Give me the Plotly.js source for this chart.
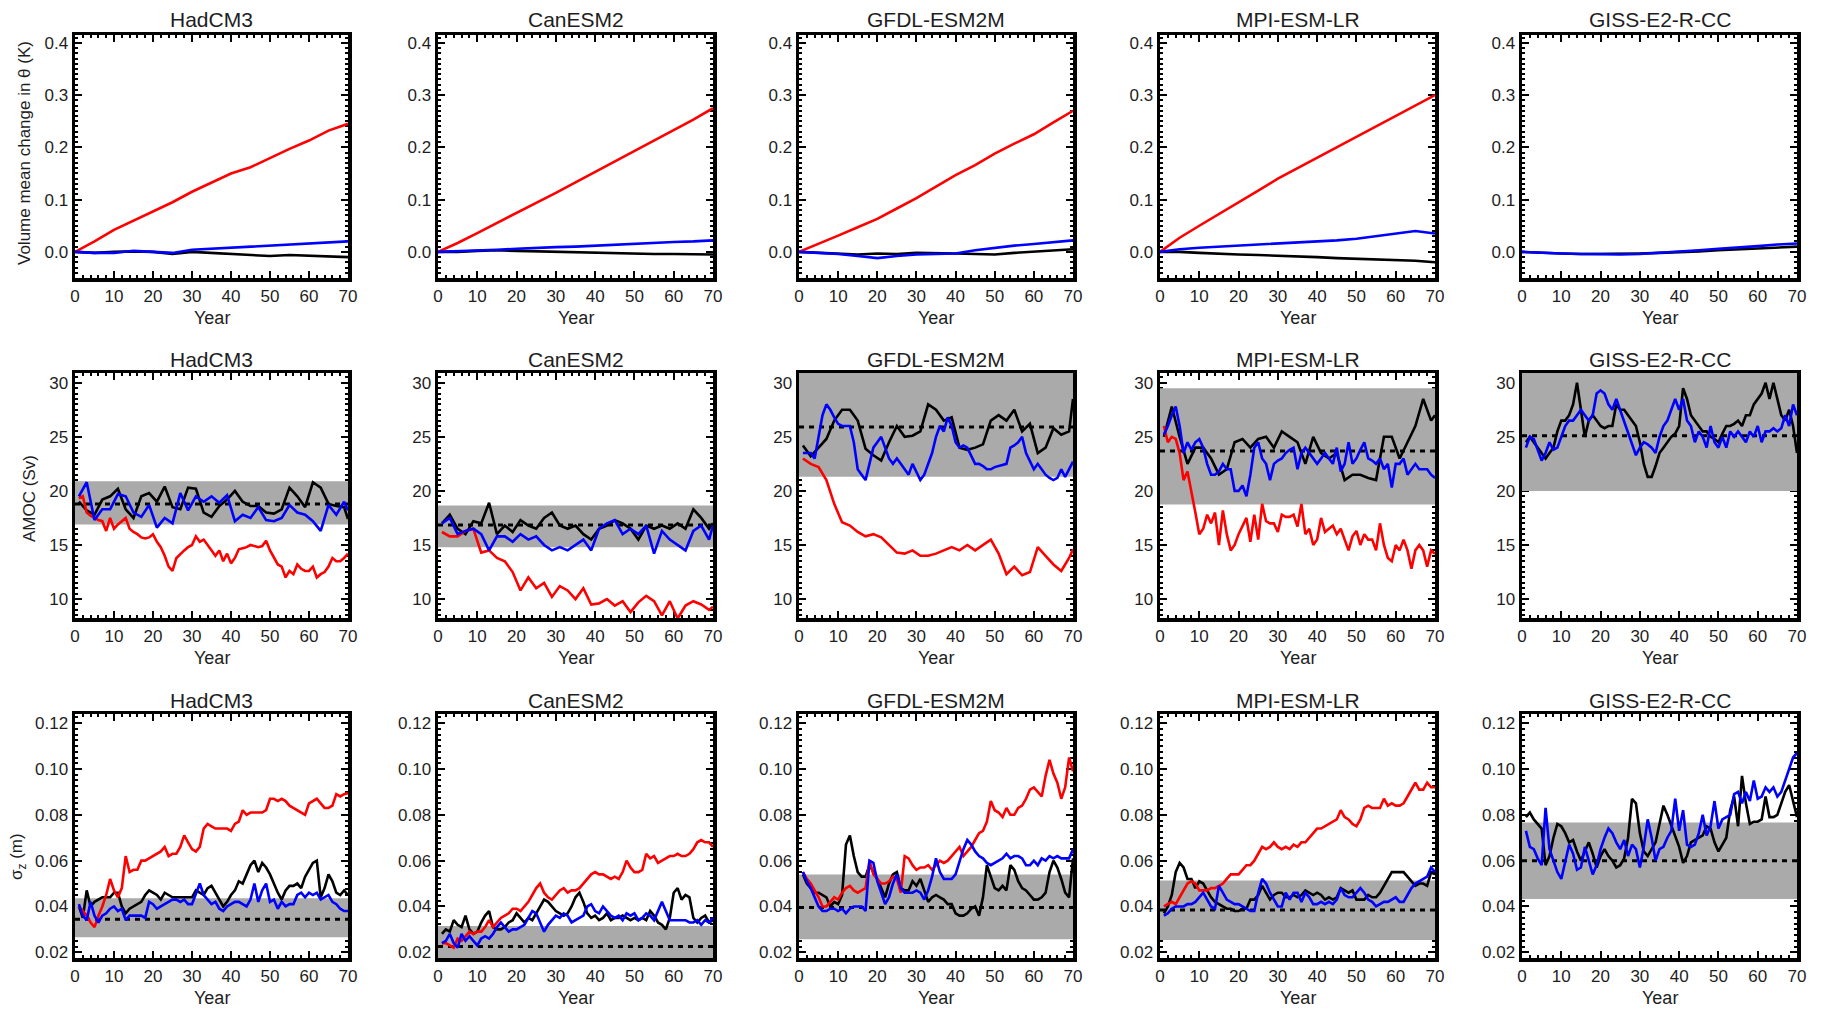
<!DOCTYPE html>
<html><head><meta charset="utf-8">
<script src="https://cdn.plot.ly/plotly-3.0.1.min.js"></script>
<style>html,body{margin:0;padding:0;background:#fff}#chart{width:1821px;height:1009px}</style>
</head><body><div id="chart"></div>
<script>
// ---------------- DATA ----------------
const MODELS = ['HadCM3', 'CanESM2', 'GFDL-ESM2M', 'MPI-ESM-LR', 'GISS-E2-R-CC'];
const X_TICKS = [0, 10, 20, 30, 40, 50, 60, 70];

// Row 1: volume mean change in theta (K), every 5 years
const YEARS_T = [0, 5, 10, 15, 20, 25, 30, 35, 40, 45, 50, 55, 60, 65, 70];
const thetaHadRed   = [0, 0.020, 0.042, 0.060, 0.077, 0.095, 0.115, 0.133, 0.150, 0.162, 0.180, 0.197, 0.213, 0.232, 0.245];
const thetaHadBlue  = [0, -0.002, -0.002, 0.002, 0.000, -0.002, 0.004, 0.006, 0.008, 0.010, 0.012, 0.013, 0.015, 0.017, 0.020];
const thetaHadBlack = [0, -0.002, 0.000, 0.001, 0.000, -0.004, 0.000, -0.002, -0.004, -0.005, -0.008, -0.006, -0.007, -0.008, -0.010];
const thetaCanRed   = [0, 0.017, 0.036, 0.055, 0.074, 0.093, 0.113, 0.133, 0.153, 0.172, 0.192, 0.212, 0.232, 0.253, 0.275];
const thetaCanBlue  = [0, 0.001, 0.003, 0.004, 0.006, 0.008, 0.009, 0.010, 0.012, 0.013, 0.015, 0.017, 0.019, 0.020, 0.022];
const thetaCanBlack = [0, 0.000, 0.002, 0.003, 0.002, 0.001, 0.000, -0.001, -0.002, -0.003, -0.003, -0.004, -0.004, -0.005, -0.005];
const thetaGfdlRed   = [0, 0.015, 0.031, 0.047, 0.063, 0.083, 0.103, 0.125, 0.147, 0.166, 0.188, 0.207, 0.225, 0.248, 0.270];
const thetaGfdlBlue  = [0, -0.002, -0.004, -0.008, -0.012, -0.008, -0.005, -0.004, -0.003, 0.003, 0.008, 0.012, 0.015, 0.019, 0.022];
const thetaGfdlBlack = [0, -0.002, -0.003, -0.005, -0.003, -0.004, -0.002, -0.002, -0.003, -0.004, -0.005, -0.002, 0.000, 0.002, 0.005];
const thetaMpiRed   = [0, 0.027, 0.050, 0.072, 0.095, 0.117, 0.140, 0.160, 0.180, 0.200, 0.220, 0.240, 0.260, 0.280, 0.300];
const thetaMpiBlue  = [0, 0.005, 0.008, 0.010, 0.012, 0.014, 0.015, 0.018, 0.020, 0.022, 0.025, 0.030, 0.035, 0.040, 0.035];
const thetaMpiBlack = [0, 0.000, -0.002, -0.004, -0.005, -0.006, -0.007, -0.008, -0.010, -0.012, -0.013, -0.014, -0.015, -0.017, -0.020];
const thetaGissBlue  = [0, -0.002, -0.003, -0.004, -0.005, -0.005, -0.004, -0.002, 0.000, 0.003, 0.006, 0.008, 0.011, 0.014, 0.016];
const thetaGissBlack = [0, -0.002, -0.003, -0.004, -0.004, -0.004, -0.003, -0.002, -0.001, 0.001, 0.003, 0.005, 0.007, 0.009, 0.010];

// Rows 2 and 3: yearly series (YEARS_1) and series read every 2 years (YEARS_2)
const YEARS_1 = [1, 2, 3, 4, 5, 6, 7, 8, 9, 10, 11, 12, 13, 14, 15, 16, 17, 18, 19, 20, 21, 22, 23, 24, 25, 26, 27, 28, 29, 30, 31, 32, 33, 34, 35, 36, 37, 38, 39, 40, 41, 42, 43, 44, 45, 46, 47, 48, 49, 50, 51, 52, 53, 54, 55, 56, 57, 58, 59, 60, 61, 62, 63, 64, 65, 66, 67, 68, 69, 70];
const YEARS_2 = [1, 3, 5, 7, 9, 11, 13, 15, 17, 19, 21, 23, 25, 27, 29, 31, 33, 35, 37, 39, 41, 43, 45, 47, 49, 51, 53, 55, 57, 59, 61, 63, 65, 67, 69, 70];

// AMOC (Sv)
const amocHadRed   = [19.3, 19.5, 18.0, 17.7, 17.5, 17.3, 17.2, 16.3, 17.5, 16.5, 16.9, 17.2, 17.5, 16.5, 16.2, 16.0, 15.7, 15.6, 15.7, 16.0, 15.3, 14.8, 14.0, 13.0, 12.6, 13.8, 14.2, 14.5, 14.8, 15.0, 15.8, 15.3, 15.5, 15.0, 14.5, 14.0, 14.5, 13.5, 14.2, 13.3, 13.8, 14.6, 14.7, 14.8, 15.0, 14.9, 14.8, 14.9, 15.4, 14.5, 13.8, 13.2, 13.0, 12.0, 12.6, 12.3, 13.2, 12.8, 12.6, 12.6, 13.0, 12.0, 12.3, 12.5, 13.0, 13.8, 13.5, 13.5, 13.8, 14.2];
const amocHadBlack = [19.0, 18.2, 17.8, 19.2, 19.5, 20.2, 18.3, 17.5, 19.5, 19.8, 19.0, 20.4, 18.5, 18.3, 20.3, 20.2, 18.0, 17.6, 18.6, 19.2, 20.0, 19.0, 18.6, 18.6, 18.0, 17.9, 18.3, 20.3, 19.5, 18.5, 20.8, 20.3, 18.8, 18.6, 18.5, 17.4];
const amocHadBlue  = [19.5, 20.8, 17.3, 18.3, 18.3, 19.7, 19.5, 18.0, 17.6, 18.7, 16.6, 17.5, 17.0, 19.8, 18.2, 19.5, 19.0, 19.5, 18.9, 19.6, 17.2, 17.8, 17.5, 18.5, 17.3, 17.2, 17.5, 18.7, 18.0, 17.8, 17.2, 16.3, 18.7, 17.8, 19.0, 18.2];
const amocCanRed   = [16.2, 15.8, 15.8, 16.3, 16.5, 14.3, 14.5, 13.8, 13.5, 12.5, 10.8, 12.0, 11.0, 11.5, 10.2, 11.2, 10.8, 10.0, 11.0, 9.5, 9.6, 10.0, 9.4, 9.8, 8.8, 9.7, 10.3, 9.8, 8.5, 9.8, 8.2, 9.4, 9.8, 9.5, 9.0, 9.3];
const amocCanBlack = [17.0, 17.8, 16.5, 16.0, 17.2, 17.0, 18.9, 16.0, 16.8, 16.2, 17.3, 16.8, 16.5, 17.5, 18.0, 16.8, 16.5, 16.8, 16.0, 15.5, 16.5, 16.8, 17.3, 17.0, 16.5, 15.5, 16.8, 16.5, 16.8, 16.5, 17.0, 16.5, 18.3, 17.5, 16.5, 17.0];
const amocCanBlue  = [17.0, 17.5, 16.0, 16.3, 16.5, 16.0, 14.5, 15.8, 15.8, 15.3, 16.0, 15.5, 15.8, 15.0, 14.5, 14.8, 14.5, 15.0, 15.5, 14.5, 16.5, 17.0, 17.3, 16.0, 16.5, 16.0, 16.8, 14.2, 16.3, 15.5, 15.0, 14.5, 16.3, 16.8, 15.5, 16.8];
const amocGfdlRed   = [23.0, 22.5, 22.2, 21.0, 18.8, 17.1, 16.8, 16.2, 15.8, 16.0, 15.7, 15.0, 14.3, 14.2, 14.5, 14.0, 14.0, 14.2, 14.5, 14.8, 14.5, 15.0, 14.5, 15.0, 15.5, 14.2, 12.3, 13.0, 12.2, 12.5, 14.8, 14.0, 13.2, 12.6, 13.8, 14.6];
const amocGfdlBlack = [24.2, 23.2, 24.0, 24.8, 26.5, 27.5, 27.5, 26.5, 23.9, 23.3, 22.8, 24.5, 26.0, 25.0, 25.1, 25.5, 28.0, 27.5, 26.5, 26.8, 24.0, 23.8, 24.0, 24.3, 26.5, 27.0, 26.5, 27.5, 25.5, 26.2, 23.5, 24.0, 25.8, 25.2, 25.5, 28.5];
const amocGfdlBlue  = [23.5, 23.5, 23.5, 23.0, 25.0, 27.0, 28.0, 27.5, 26.8, 26.2, 26.0, 26.0, 26.0, 24.5, 22.0, 21.5, 21.0, 22.5, 24.0, 24.5, 25.0, 24.0, 23.0, 22.5, 23.0, 22.5, 22.0, 21.5, 22.5, 21.8, 21.0, 21.5, 22.5, 23.5, 25.0, 26.0, 25.5, 26.8, 26.0, 24.5, 24.0, 24.2, 24.0, 23.2, 22.5, 22.5, 22.3, 22.0, 22.0, 22.2, 22.3, 22.4, 22.5, 24.0, 24.2, 24.5, 25.0, 23.5, 22.7, 22.0, 22.5, 22.0, 21.5, 21.2, 21.0, 21.2, 22.0, 21.3, 22.0, 22.7];
const amocMpiRed   = [26.0, 24.5, 25.0, 24.8, 23.5, 21.0, 21.8, 20.0, 18.0, 16.0, 16.5, 17.8, 17.0, 18.0, 15.0, 18.2, 16.0, 14.5, 15.0, 16.0, 16.8, 17.5, 15.3, 17.8, 15.5, 18.8, 17.2, 17.0, 17.0, 16.2, 17.8, 17.6, 17.6, 17.8, 16.7, 18.8, 16.0, 16.5, 15.0, 15.5, 17.5, 16.2, 16.5, 16.8, 16.0, 16.5, 15.5, 14.5, 15.8, 16.3, 15.0, 16.0, 15.5, 15.5, 14.5, 17.0, 15.0, 13.8, 13.5, 15.0, 14.5, 15.5, 14.5, 12.8, 14.5, 15.0, 14.5, 13.0, 14.5, 14.2];
const amocMpiBlack = [25.0, 27.8, 25.0, 22.5, 24.0, 24.0, 23.0, 21.5, 22.0, 24.5, 24.8, 24.0, 24.8, 25.0, 24.0, 25.5, 25.0, 24.5, 22.5, 25.0, 23.5, 23.0, 23.5, 21.0, 21.5, 21.5, 21.2, 21.0, 25.0, 25.0, 23.0, 24.5, 26.0, 28.5, 26.5, 27.0];
const amocMpiBlue  = [25.2, 26.0, 27.0, 27.8, 26.0, 23.5, 24.5, 23.8, 24.5, 24.8, 24.0, 22.5, 21.5, 21.5, 21.8, 22.5, 22.0, 22.0, 20.0, 20.0, 20.5, 19.5, 21.5, 24.0, 24.5, 23.0, 22.5, 21.0, 22.5, 22.8, 23.0, 23.5, 23.8, 24.0, 22.0, 23.5, 24.0, 23.5, 23.0, 22.5, 23.0, 23.5, 23.0, 22.5, 24.0, 21.8, 22.5, 24.5, 22.5, 23.0, 23.8, 24.5, 23.0, 22.8, 22.5, 23.0, 22.0, 22.5, 20.3, 22.5, 22.5, 23.0, 21.5, 22.0, 22.5, 22.0, 22.0, 22.0, 21.5, 21.2];
const amocGissBlack = [24.5, 25.0, 24.5, 24.0, 23.5, 23.0, 23.5, 24.0, 25.5, 26.5, 26.5, 27.0, 28.0, 30.0, 27.5, 25.0, 26.5, 27.0, 26.5, 26.0, 25.8, 26.0, 26.0, 28.0, 27.5, 27.5, 27.0, 26.5, 26.0, 24.5, 22.5, 21.3, 21.3, 22.3, 23.5, 24.0, 24.5, 25.0, 25.3, 26.0, 29.5, 28.5, 27.0, 26.5, 26.0, 25.5, 25.5, 25.0, 24.8, 24.5, 25.3, 26.0, 26.0, 26.2, 26.5, 26.0, 27.0, 27.0, 28.0, 28.5, 29.0, 30.0, 28.5, 30.0, 28.5, 27.0, 26.5, 27.5, 26.0, 23.5];
const amocGissBlue  = [24.0, 25.0, 24.8, 23.8, 22.8, 23.5, 24.5, 23.8, 24.0, 25.0, 26.0, 26.5, 26.5, 27.0, 27.5, 27.0, 26.5, 27.0, 29.0, 29.3, 29.0, 28.0, 27.5, 28.5, 27.5, 26.5, 25.5, 24.5, 23.3, 24.0, 24.5, 24.3, 24.0, 23.5, 25.0, 26.0, 26.5, 27.5, 28.5, 27.5, 28.5, 26.5, 26.0, 24.5, 25.5, 25.0, 24.0, 26.0, 24.5, 24.0, 25.0, 24.0, 25.5, 25.0, 25.5, 25.0, 24.5, 25.5, 25.0, 26.0, 24.5, 25.5, 25.5, 25.8, 25.5, 25.8, 27.0, 26.0, 28.0, 27.0];
const amocBandLo = [16.9, 14.8, 21.3, 18.75, 20.0];
const amocBandHi = [20.9, 18.65, 31.0, 29.5, 31.0];
const amocMean   = [18.8, 16.85, 25.9, 23.7, 25.1];

// sigma_z (m), yearly
const sigHadRed   = [0.040, 0.038, 0.036, 0.033, 0.031, 0.036, 0.040, 0.045, 0.052, 0.047, 0.044, 0.048, 0.062, 0.055, 0.056, 0.056, 0.060, 0.060, 0.061, 0.062, 0.063, 0.064, 0.066, 0.062, 0.063, 0.063, 0.066, 0.071, 0.068, 0.065, 0.064, 0.066, 0.074, 0.076, 0.075, 0.074, 0.074, 0.074, 0.074, 0.073, 0.076, 0.077, 0.082, 0.080, 0.081, 0.081, 0.081, 0.081, 0.082, 0.087, 0.087, 0.086, 0.087, 0.086, 0.084, 0.083, 0.082, 0.081, 0.080, 0.085, 0.086, 0.087, 0.085, 0.083, 0.083, 0.084, 0.089, 0.088, 0.089, 0.0895];
const sigHadBlack = [0.040, 0.035, 0.047, 0.040, 0.042, 0.043, 0.044, 0.044, 0.044, 0.046, 0.046, 0.040, 0.037, 0.039, 0.040, 0.041, 0.042, 0.045, 0.047, 0.046, 0.045, 0.043, 0.046, 0.045, 0.044, 0.044, 0.044, 0.044, 0.044, 0.044, 0.047, 0.046, 0.045, 0.048, 0.049, 0.046, 0.043, 0.040, 0.042, 0.045, 0.047, 0.051, 0.050, 0.054, 0.058, 0.060, 0.055, 0.059, 0.057, 0.054, 0.050, 0.046, 0.043, 0.047, 0.049, 0.049, 0.050, 0.048, 0.053, 0.056, 0.059, 0.060, 0.044, 0.048, 0.054, 0.051, 0.046, 0.045, 0.047, 0.045];
const sigHadBlue  = [0.041, 0.036, 0.034, 0.042, 0.036, 0.033, 0.036, 0.037, 0.039, 0.040, 0.038, 0.039, 0.034, 0.036, 0.036, 0.036, 0.036, 0.035, 0.042, 0.041, 0.039, 0.040, 0.041, 0.042, 0.043, 0.043, 0.042, 0.043, 0.041, 0.041, 0.046, 0.050, 0.045, 0.043, 0.041, 0.042, 0.039, 0.038, 0.040, 0.041, 0.042, 0.042, 0.041, 0.040, 0.043, 0.050, 0.042, 0.047, 0.050, 0.042, 0.043, 0.039, 0.042, 0.040, 0.041, 0.041, 0.045, 0.046, 0.044, 0.046, 0.045, 0.046, 0.043, 0.044, 0.045, 0.042, 0.041, 0.039, 0.038, 0.038];
const sigCanRed   = [0.024, 0.024, 0.023, 0.022, 0.026, 0.025, 0.027, 0.029, 0.028, 0.029, 0.029, 0.031, 0.034, 0.031, 0.033, 0.035, 0.036, 0.037, 0.039, 0.039, 0.038, 0.040, 0.042, 0.045, 0.048, 0.050, 0.046, 0.044, 0.043, 0.045, 0.047, 0.048, 0.046, 0.047, 0.047, 0.048, 0.050, 0.052, 0.054, 0.055, 0.054, 0.054, 0.053, 0.052, 0.053, 0.052, 0.055, 0.060, 0.057, 0.055, 0.055, 0.056, 0.063, 0.061, 0.062, 0.059, 0.060, 0.061, 0.062, 0.062, 0.063, 0.062, 0.062, 0.063, 0.065, 0.068, 0.069, 0.068, 0.068, 0.066];
const sigCanBlack = [0.028, 0.030, 0.029, 0.034, 0.032, 0.031, 0.036, 0.030, 0.028, 0.029, 0.033, 0.036, 0.038, 0.031, 0.030, 0.030, 0.031, 0.033, 0.034, 0.037, 0.035, 0.033, 0.035, 0.034, 0.037, 0.040, 0.043, 0.042, 0.040, 0.038, 0.037, 0.036, 0.037, 0.040, 0.044, 0.046, 0.042, 0.037, 0.035, 0.036, 0.034, 0.035, 0.037, 0.034, 0.035, 0.035, 0.036, 0.035, 0.034, 0.035, 0.034, 0.035, 0.034, 0.038, 0.036, 0.033, 0.032, 0.030, 0.035, 0.046, 0.048, 0.043, 0.045, 0.044, 0.035, 0.033, 0.035, 0.036, 0.033, 0.034];
const sigCanBlue  = [0.024, 0.025, 0.028, 0.024, 0.022, 0.028, 0.025, 0.027, 0.025, 0.023, 0.026, 0.027, 0.026, 0.028, 0.031, 0.033, 0.031, 0.029, 0.030, 0.030, 0.031, 0.032, 0.035, 0.038, 0.037, 0.033, 0.029, 0.032, 0.034, 0.036, 0.035, 0.037, 0.036, 0.033, 0.034, 0.035, 0.036, 0.040, 0.041, 0.038, 0.037, 0.040, 0.038, 0.036, 0.035, 0.036, 0.034, 0.037, 0.036, 0.037, 0.034, 0.035, 0.037, 0.036, 0.034, 0.038, 0.042, 0.038, 0.034, 0.034, 0.034, 0.034, 0.034, 0.033, 0.033, 0.034, 0.032, 0.034, 0.033, 0.035];
const sigGfdlRed   = [0.055, 0.052, 0.050, 0.047, 0.044, 0.040, 0.040, 0.042, 0.044, 0.043, 0.046, 0.048, 0.049, 0.047, 0.046, 0.047, 0.048, 0.060, 0.054, 0.052, 0.050, 0.050, 0.051, 0.053, 0.052, 0.046, 0.062, 0.061, 0.058, 0.056, 0.057, 0.057, 0.058, 0.056, 0.058, 0.060, 0.059, 0.060, 0.062, 0.064, 0.066, 0.062, 0.064, 0.066, 0.069, 0.072, 0.073, 0.077, 0.086, 0.082, 0.081, 0.079, 0.083, 0.080, 0.080, 0.083, 0.084, 0.087, 0.091, 0.092, 0.090, 0.088, 0.097, 0.104, 0.098, 0.094, 0.087, 0.092, 0.105, 0.099];
const sigGfdlBlack = [0.054, 0.050, 0.048, 0.046, 0.046, 0.045, 0.044, 0.040, 0.042, 0.041, 0.045, 0.067, 0.071, 0.062, 0.055, 0.053, 0.053, 0.058, 0.055, 0.052, 0.048, 0.044, 0.050, 0.054, 0.055, 0.048, 0.047, 0.047, 0.051, 0.049, 0.052, 0.047, 0.042, 0.044, 0.045, 0.044, 0.043, 0.041, 0.041, 0.037, 0.036, 0.036, 0.037, 0.039, 0.040, 0.036, 0.044, 0.058, 0.053, 0.048, 0.047, 0.049, 0.047, 0.058, 0.056, 0.051, 0.048, 0.047, 0.045, 0.043, 0.043, 0.044, 0.046, 0.055, 0.060, 0.057, 0.052, 0.046, 0.044, 0.061];
const sigGfdlBlue  = [0.055, 0.051, 0.048, 0.044, 0.040, 0.038, 0.038, 0.039, 0.039, 0.038, 0.039, 0.037, 0.039, 0.040, 0.040, 0.040, 0.038, 0.060, 0.059, 0.051, 0.046, 0.041, 0.044, 0.050, 0.054, 0.048, 0.046, 0.046, 0.046, 0.047, 0.046, 0.043, 0.047, 0.053, 0.061, 0.055, 0.052, 0.052, 0.052, 0.054, 0.060, 0.065, 0.069, 0.067, 0.064, 0.062, 0.061, 0.059, 0.058, 0.059, 0.060, 0.061, 0.063, 0.061, 0.062, 0.062, 0.061, 0.058, 0.058, 0.060, 0.058, 0.061, 0.060, 0.062, 0.061, 0.062, 0.061, 0.061, 0.061, 0.065];
const sigMpiRed   = [0.040, 0.041, 0.042, 0.041, 0.044, 0.047, 0.050, 0.051, 0.050, 0.047, 0.047, 0.047, 0.048, 0.048, 0.049, 0.050, 0.052, 0.054, 0.054, 0.054, 0.056, 0.058, 0.058, 0.060, 0.063, 0.066, 0.065, 0.066, 0.068, 0.066, 0.065, 0.066, 0.065, 0.067, 0.066, 0.068, 0.068, 0.070, 0.072, 0.074, 0.074, 0.075, 0.076, 0.077, 0.078, 0.082, 0.079, 0.078, 0.076, 0.075, 0.078, 0.083, 0.084, 0.083, 0.083, 0.083, 0.087, 0.084, 0.085, 0.084, 0.084, 0.085, 0.088, 0.091, 0.094, 0.091, 0.091, 0.094, 0.092, 0.092];
const sigMpiBlack = [0.037, 0.040, 0.045, 0.055, 0.059, 0.057, 0.052, 0.052, 0.048, 0.051, 0.050, 0.047, 0.044, 0.042, 0.041, 0.040, 0.039, 0.039, 0.038, 0.038, 0.039, 0.039, 0.043, 0.043, 0.045, 0.049, 0.046, 0.043, 0.045, 0.046, 0.046, 0.044, 0.044, 0.045, 0.044, 0.045, 0.047, 0.046, 0.045, 0.046, 0.045, 0.043, 0.044, 0.043, 0.044, 0.048, 0.047, 0.046, 0.047, 0.043, 0.043, 0.043, 0.045, 0.044, 0.044, 0.046, 0.049, 0.052, 0.055, 0.055, 0.055, 0.055, 0.053, 0.051, 0.049, 0.050, 0.050, 0.049, 0.055, 0.054];
const sigMpiBlue  = [0.036, 0.037, 0.039, 0.040, 0.040, 0.040, 0.041, 0.041, 0.042, 0.044, 0.046, 0.043, 0.040, 0.039, 0.049, 0.046, 0.043, 0.042, 0.041, 0.041, 0.040, 0.039, 0.038, 0.038, 0.046, 0.052, 0.050, 0.046, 0.043, 0.040, 0.040, 0.046, 0.043, 0.046, 0.046, 0.042, 0.046, 0.044, 0.041, 0.041, 0.042, 0.041, 0.042, 0.041, 0.043, 0.048, 0.045, 0.044, 0.044, 0.046, 0.048, 0.046, 0.043, 0.042, 0.040, 0.041, 0.042, 0.042, 0.043, 0.044, 0.042, 0.042, 0.045, 0.048, 0.050, 0.051, 0.052, 0.053, 0.057, 0.055];
const sigGissBlack = [0.079, 0.081, 0.078, 0.076, 0.074, 0.058, 0.062, 0.070, 0.076, 0.075, 0.072, 0.068, 0.069, 0.064, 0.060, 0.064, 0.068, 0.063, 0.057, 0.062, 0.065, 0.062, 0.060, 0.057, 0.058, 0.061, 0.070, 0.087, 0.085, 0.072, 0.064, 0.062, 0.065, 0.068, 0.076, 0.084, 0.080, 0.075, 0.070, 0.066, 0.059, 0.062, 0.068, 0.069, 0.070, 0.071, 0.075, 0.074, 0.068, 0.064, 0.067, 0.070, 0.082, 0.088, 0.075, 0.097, 0.085, 0.076, 0.077, 0.077, 0.078, 0.088, 0.079, 0.079, 0.080, 0.085, 0.090, 0.093, 0.086, 0.079];
const sigGissBlue  = [0.073, 0.066, 0.065, 0.061, 0.058, 0.083, 0.065, 0.060, 0.055, 0.052, 0.060, 0.067, 0.063, 0.056, 0.057, 0.066, 0.060, 0.054, 0.058, 0.065, 0.070, 0.074, 0.072, 0.068, 0.065, 0.069, 0.062, 0.067, 0.065, 0.057, 0.066, 0.078, 0.070, 0.060, 0.065, 0.066, 0.070, 0.073, 0.087, 0.073, 0.082, 0.067, 0.066, 0.067, 0.072, 0.080, 0.071, 0.075, 0.086, 0.074, 0.078, 0.079, 0.080, 0.089, 0.090, 0.085, 0.090, 0.086, 0.095, 0.087, 0.088, 0.092, 0.090, 0.092, 0.088, 0.090, 0.095, 0.100, 0.105, 0.107];
const sigBandLo = [0.0266, 0.013, 0.0257, 0.0254, 0.0432];
const sigBandHi = [0.0436, 0.0315, 0.054, 0.0513, 0.0766];
const sigMean   = [0.0344, 0.0225, 0.0395, 0.0385, 0.060];

// ---------------- LAYOUT / BUILD ----------------
const W = 1821, H = 1009;
const FONT = 'Liberation Sans, Arial, sans-serif';
const TXT = '#1e1e1e';
const colL = [75, 438, 799, 1160, 1522], colR = [348, 713, 1073, 1435, 1797];
const rowT = [35, 373, 714], rowB = [278, 618, 958];
const titleY = [20, 360, 700], yearY = [318, 658, 998], ytitY = [153, 499, 857], ytitX = [25, 29, 18];
const yRanges = [[-0.05, 0.415], [8.25, 30.9], [0.0175, 0.124]];
const yDtick = [0.1, 5, 0.02], yMinor = [0.01, 0.5, 0.0025], yFmt = ['.1f', 'd', '.2f'];
const yTitles = ['Volume mean change in θ (K)', 'AMOC (Sv)', 'σ<sub>z</sub> (m)'];

const T = YEARS_T, Y1 = YEARS_1, Y2 = YEARS_2;
const rows = [
  { red:   [[T, thetaHadRed], [T, thetaCanRed], [T, thetaGfdlRed], [T, thetaMpiRed], null],
    black: [[T, thetaHadBlack], [T, thetaCanBlack], [T, thetaGfdlBlack], [T, thetaMpiBlack], [T, thetaGissBlack]],
    blue:  [[T, thetaHadBlue], [T, thetaCanBlue], [T, thetaGfdlBlue], [T, thetaMpiBlue], [T, thetaGissBlue]],
    lo: null, hi: null, mean: null },
  { red:   [[Y1, amocHadRed], [Y2, amocCanRed], [Y2, amocGfdlRed], [Y1, amocMpiRed], null],
    black: [[Y2, amocHadBlack], [Y2, amocCanBlack], [Y2, amocGfdlBlack], [Y2, amocMpiBlack], [Y1, amocGissBlack]],
    blue:  [[Y2, amocHadBlue], [Y2, amocCanBlue], [Y1, amocGfdlBlue], [Y1, amocMpiBlue], [Y1, amocGissBlue]],
    lo: amocBandLo, hi: amocBandHi, mean: amocMean },
  { red:   [[Y1, sigHadRed], [Y1, sigCanRed], [Y1, sigGfdlRed], [Y1, sigMpiRed], null],
    black: [[Y1, sigHadBlack], [Y1, sigCanBlack], [Y1, sigGfdlBlack], [Y1, sigMpiBlack], [Y1, sigGissBlack]],
    blue:  [[Y1, sigHadBlue], [Y1, sigCanBlue], [Y1, sigGfdlBlue], [Y1, sigMpiBlue], [Y1, sigGissBlue]],
    lo: sigBandLo, hi: sigBandHi, mean: sigMean }
];

const traces = [];
const layout = {
  width: W, height: H, margin: {l: 0, r: 0, t: 0, b: 0},
  paper_bgcolor: '#fff', plot_bgcolor: '#fff', showlegend: false,
  font: {family: FONT, color: TXT},
  annotations: []
};

const xStart = X_TICKS[0], xEnd = X_TICKS[X_TICKS.length - 1];

for (let r = 0; r < 3; r++) {
  const R = rows[r];
  for (let c = 0; c < 5; c++) {
    const n = r * 5 + c + 1;
    const xs = 'x' + (n > 1 ? n : ''), ys = 'y' + (n > 1 ? n : '');
    const common = {
      showgrid: false, zeroline: false, showline: true, linecolor: '#000', linewidth: 3.5,
      mirror: 'allticks', ticks: 'inside', ticklen: 7, tickwidth: 2, tickcolor: '#000',
      layer: 'below traces', fixedrange: true,
      tickfont: {family: FONT, size: 17, color: TXT}
    };
    layout['xaxis' + (n > 1 ? n : '')] = Object.assign({}, common, {
      domain: [colL[c] / W, colR[c] / W], anchor: ys, range: [xStart, xEnd],
      tickmode: 'array', tickvals: X_TICKS, ticktext: X_TICKS.map(String),
      minor: {ticks: 'inside', ticklen: 3, tickwidth: 2, tickcolor: '#000', dtick: 2, tick0: 0}
    });
    layout['yaxis' + (n > 1 ? n : '')] = Object.assign({}, common, {
      domain: [1 - rowB[r] / H, 1 - rowT[r] / H], anchor: xs, range: yRanges[r],
      tick0: 0, dtick: yDtick[r], tickformat: yFmt[r],
      minor: {ticks: 'inside', ticklen: 3, tickwidth: 2, tickcolor: '#000', dtick: yMinor[r]}
    });

    if (R.lo) {
      traces.push({type: 'scatter', mode: 'lines', xaxis: xs, yaxis: ys,
        x: [xStart, xEnd, xEnd, xStart], y: [R.lo[c], R.lo[c], R.hi[c], R.hi[c]],
        fill: 'toself', fillcolor: '#aaaaaa', line: {width: 0}, hoverinfo: 'skip'});
      traces.push({type: 'scatter', mode: 'lines', xaxis: xs, yaxis: ys,
        x: [xStart, xEnd], y: [R.mean[c], R.mean[c]],
        line: {color: '#000', width: 3, dash: '5px,5px'}, hoverinfo: 'skip'});
    }
    const add = (s, col) => {
      if (!s) return;
      traces.push({type: 'scatter', mode: 'lines', xaxis: xs, yaxis: ys,
        x: s[0], y: s[1], line: {color: col, width: 2.6}});
    };
    add(R.black[c], '#000000');
    add(R.red[c], '#ff0000');
    add(R.blue[c], '#0000ff');

    const cx = (colL[c] + colR[c]) / 2 / W;
    layout.annotations.push({xref: 'paper', yref: 'paper', x: cx, y: 1 - titleY[r] / H,
      text: MODELS[c], showarrow: false, xanchor: 'center', yanchor: 'middle',
      font: {family: FONT, size: 21, color: TXT}});
    layout.annotations.push({xref: 'paper', yref: 'paper', x: cx, y: 1 - yearY[r] / H,
      text: 'Year', showarrow: false, xanchor: 'center', yanchor: 'middle',
      font: {family: FONT, size: 18, color: TXT}});
  }
  layout.annotations.push({xref: 'paper', yref: 'paper', x: ytitX[r] / W, y: 1 - ytitY[r] / H,
    text: yTitles[r], showarrow: false, textangle: -90, xanchor: 'center', yanchor: 'middle',
    font: {family: FONT, size: 17, color: TXT}});
}

Plotly.newPlot('chart', traces, layout, {staticPlot: true, displayModeBar: false});
</script>
</body></html>
